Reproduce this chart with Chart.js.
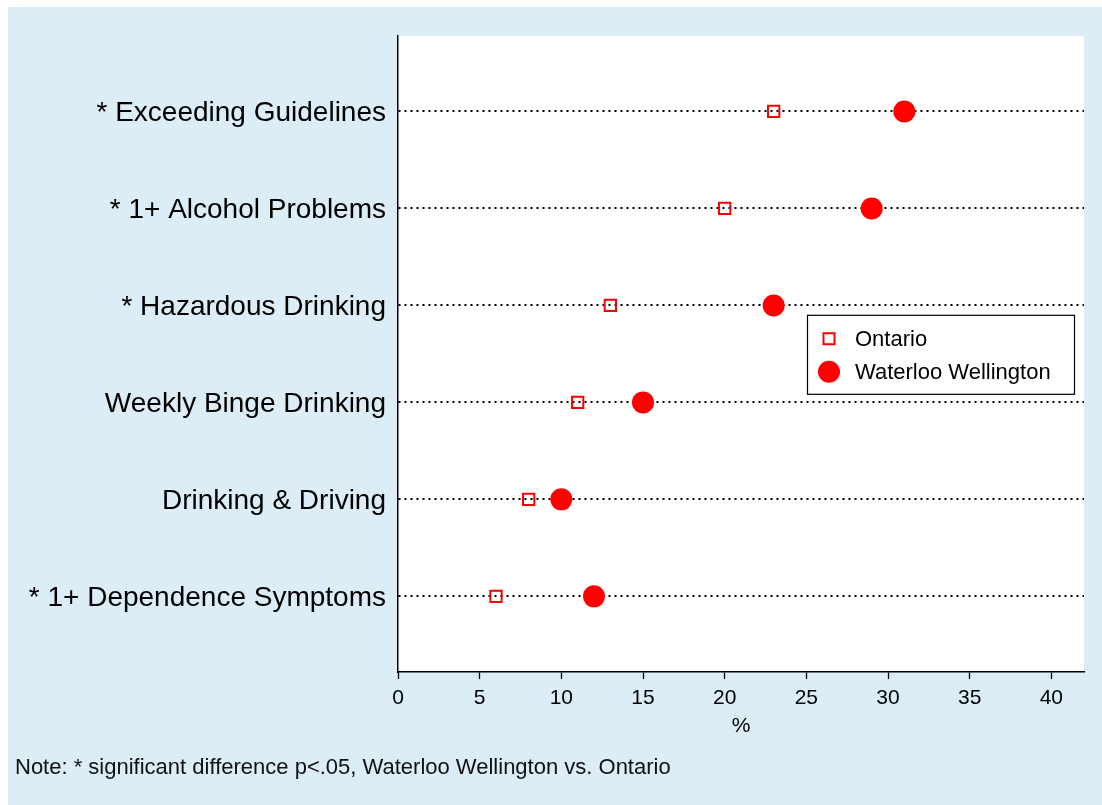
<!DOCTYPE html>
<html>
<head>
<meta charset="utf-8">
<script src="https://cdn.jsdelivr.net/npm/chart.js@4.4.1/dist/chart.umd.min.js"></script>
<style>
  html, body { margin: 0; padding: 0; background: #ffffff; }
  #wrap { position: absolute; left: 8px; top: 7px; width: 1094px; height: 798px; background: #dcedf5; }
  #c { position: absolute; left: 0; top: 0; }
  #note { position: absolute; left: 7px; top: 748px; font-family: "Liberation Sans", Arial, sans-serif; font-size: 22px; line-height: 24px; color: #111; white-space: nowrap; }
</style>
</head>
<body>
<div id="wrap">
  <canvas id="c" width="1094" height="798"></canvas>
  <div id="note">Note: * significant difference p&lt;.05, Waterloo Wellington vs. Ontario</div>
</div>
<script>
const categories = ["* Exceeding Guidelines", "* 1+ Alcohol Problems", "* Hazardous Drinking", "Weekly Binge Drinking", "Drinking & Driving", "* 1+ Dependence Symptoms"];
const ontario = [23, 20, 13, 11, 8, 6];
const waterlooWellington = [31, 29, 23, 15, 10, 12];
const xTicks = [0, 5, 10, 15, 20, 25, 30, 35, 40];
const seriesNames = ["Ontario", "Waterloo Wellington"];

const FONT = '"Liberation Sans", Arial, sans-serif';

const plotBg = {
  id: 'plotBg',
  beforeDraw(chart) {
    const {ctx, chartArea: a} = chart;
    ctx.save();
    ctx.fillStyle = '#ffffff';
    ctx.fillRect(a.left, a.top, a.right - a.left, a.bottom - a.top);
    ctx.restore();
  }
};

const insideLegend = {
  id: 'insideLegend',
  afterDraw(chart) {
    const {ctx, chartArea: a} = chart;
    const w = 267, h = 79;
    const x0 = a.right - 10 - w, y0 = a.top + 279;
    ctx.save();
    ctx.fillStyle = '#ffffff';
    ctx.fillRect(x0, y0, w, h);
    ctx.strokeStyle = '#000000';
    ctx.lineWidth = 1.2;
    ctx.strokeRect(x0 + 0.5, y0 + 0.5, w, h);
    ctx.font = '22px ' + FONT;
    ctx.textBaseline = 'middle';
    chart.data.datasets.forEach((ds, i) => {
      const cx = x0 + 22, cy = y0 + 24 + i * 33;
      ctx.fillStyle = ds.backgroundColor;
      ctx.strokeStyle = ds.borderColor;
      ctx.lineWidth = ds.borderWidth;
      ctx.beginPath();
      if (ds.pointStyle === 'circle') {
        ctx.arc(cx, cy, ds.legendRadius, 0, Math.PI * 2);
        ctx.fill();
      } else {
        const s = ds.legendRadius;
        ctx.rect(cx - s, cy - s, 2 * s, 2 * s);
        ctx.stroke();
      }
      ctx.fillStyle = '#000000';
      ctx.fillText(ds.label, x0 + 48, cy + 1);
    });
    ctx.restore();
  }
};

const toPoints = vals => vals.map((v, i) => ({x: v, y: i}));

new Chart(document.getElementById('c'), {
  type: 'scatter',
  data: {
    datasets: [
      {
        label: seriesNames[0],
        data: toPoints(ontario),
        pointStyle: 'rect',
        pointRadius: 8,
        pointHoverRadius: 8,
        legendRadius: 5.5,
        backgroundColor: 'rgba(0,0,0,0)',
        borderColor: '#ff0000',
        borderWidth: 2,
        pointBorderWidth: 2
      },
      {
        label: seriesNames[1],
        data: toPoints(waterlooWellington),
        pointStyle: 'circle',
        pointRadius: 11,
        pointHoverRadius: 11,
        legendRadius: 11,
        backgroundColor: '#ff0000',
        borderColor: '#ff0000',
        borderWidth: 0,
        pointBorderWidth: 0
      }
    ]
  },
  options: {
    responsive: false,
    animation: false,
    events: [],
    layout: { padding: { top: 28, right: 18, left: 0, bottom: 0 } },
    plugins: {
      legend: { display: false },
      tooltip: { enabled: false }
    },
    scales: {
      x: {
        type: 'linear',
        min: 0,
        max: 42,
        afterBuildTicks(scale) { scale.ticks = xTicks.map(v => ({value: v})); },
        afterFit(scale) { scale.height = 133; },
        grid: { drawOnChartArea: false, drawTicks: true, tickLength: 7, color: '#000000', tickWidth: 1.3 },
        border: { display: true, color: '#000000', width: 1.5 },
        ticks: { color: '#000000', font: { family: FONT, size: 21 }, padding: 7, maxRotation: 0 },
        title: { display: true, text: '%', color: '#000000', font: { family: FONT, size: 21 }, padding: { top: 0, bottom: 66 } }
      },
      y: {
        type: 'linear',
        reverse: true,
        min: -0.78,
        max: 5.78,
        afterBuildTicks(scale) { scale.ticks = categories.map((c, i) => ({value: i})); },
        afterFit(scale) { scale.width = 390; },
        grid: { drawOnChartArea: true, drawTicks: false, color: '#000000', lineWidth: 2 },
        border: { display: true, color: '#000000', width: 1.5, dash: [2, 4] },
        ticks: {
          color: '#000000',
          font: { family: FONT, size: 28 },
          padding: 12,
          labelOffset: 2,
          callback: (v) => categories[v]
        }
      }
    }
  },
  plugins: [plotBg, insideLegend]
});
</script>
</body>
</html>
